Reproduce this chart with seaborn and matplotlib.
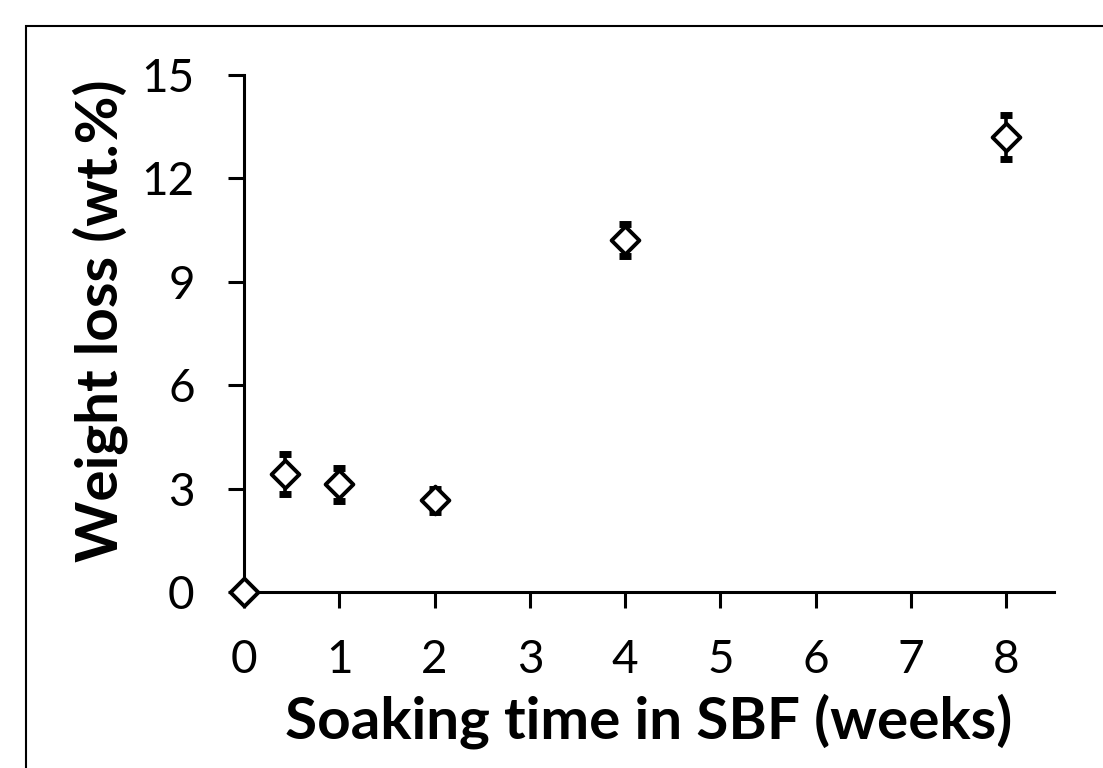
import matplotlib
matplotlib.use("Agg")
import matplotlib.pyplot as plt
import seaborn as sns
import pandas as pd
from matplotlib.patches import Rectangle

# data
weeks = [0, 3 / 7, 1, 2, 4, 8]
weight_loss = [0.0, 3.42, 3.12, 2.66, 10.22, 13.2]
weight_err = [0.0, 0.57, 0.48, 0.33, 0.47, 0.63]
x_ticks = [0, 1, 2, 3, 4, 5, 6, 7, 8]
y_ticks = [0, 3, 6, 9, 12, 15]

df = pd.DataFrame({"weeks": weeks, "loss": weight_loss, "err": weight_err})

sns.set_theme(style="white")
plt.rcParams["font.family"] = ["Lato", "DejaVu Sans"]
plt.rcParams["text.color"] = "black"
plt.rcParams["axes.labelcolor"] = "black"

fig = plt.figure(figsize=(11.03, 7.68), dpi=100)
ax = fig.add_axes([0.2212, 0.2292, 0.7344, 0.6731])

# error bars (skip the zero point, it has none)
eb = df[df["err"] > 0]
ax.errorbar(eb["weeks"], eb["loss"], yerr=eb["err"], fmt="none",
            ecolor="black", elinewidth=2.6, capsize=4.5, capthick=5, zorder=3)

sns.scatterplot(data=df, x="weeks", y="loss", ax=ax, marker="D", s=200,
                facecolor="white", edgecolor="black", linewidth=2.8,
                zorder=5, clip_on=False, legend=False)

ax.set_xlim(0, 8.5)
ax.set_ylim(0, 15)
ax.set_xticks(x_ticks)
ax.set_yticks(y_ticks)
ax.tick_params(axis="both", direction="out", length=11.5, width=2.2,
               colors="black", labelsize=33)
ax.tick_params(axis="x", pad=22)
ax.tick_params(axis="y", pad=24)
ax.tick_params(axis="both", which="both", bottom=True, left=True)

for side in ["top", "right"]:
    ax.spines[side].set_visible(False)
for side in ["left", "bottom"]:
    ax.spines[side].set_linewidth(2.2)
    ax.spines[side].set_color("black")

ax.set_xlabel("Soaking time in SBF (weeks)", fontsize=42, fontweight="bold",
              labelpad=9, color="black")
ax.set_ylabel("Weight loss (wt.%)", fontsize=42, fontweight="bold",
              labelpad=10, color="black")
ax.yaxis.label.set_y(0.525)

# frame around the chart area, cut off at right and bottom like the source
fig.patches.append(Rectangle((0.0236, -0.05), 1.1, 0.9662 + 0.05,
                             transform=fig.transFigure, fill=False,
                             edgecolor="black", linewidth=1.5))

fig.savefig("out.png", dpi=100)
